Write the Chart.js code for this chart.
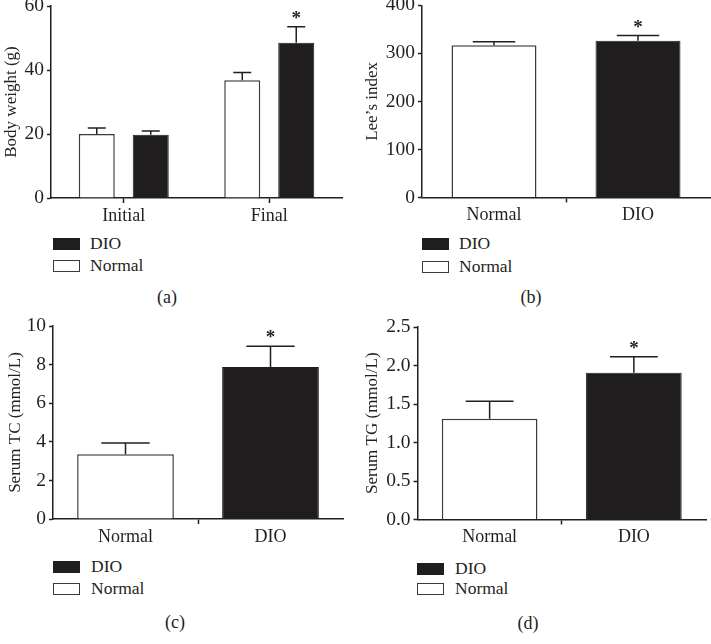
<!DOCTYPE html>
<html><head><meta charset="utf-8">
<script src="https://cdn.jsdelivr.net/npm/chart.js@4/dist/chart.umd.min.js"></script>
<style>
html,body{margin:0;padding:0;background:#fff}
body{width:711px;height:644px;position:relative;overflow:hidden;font-family:"Liberation Serif","Times New Roman",serif;color:#231f20}
.panel{position:absolute}
.lbox{position:absolute;width:27px;height:12px;box-sizing:border-box}
.ltxt{position:absolute;font-size:17.5px;line-height:17.5px;white-space:nowrap}
.cap{position:absolute;font-size:18px;line-height:20px;transform:translate(-50%,-50%)}
</style></head><body>
<script>
// ---------- data ----------
const bwCategories = ['Initial', 'Final'];
const bwNormal = [20.0, 36.8];
const bwNormalSem = [1.9, 2.4];
const bwDio = [19.8, 48.5];
const bwDioSem = [1.1, 5.0];
const bwDioStar = [false, true];
const bwTicks = [0, 20, 40, 60];

const groupCategories = ['Normal', 'DIO'];

const leeNormal = 317;
const leeNormalSem = 7;
const leeDio = 326;
const leeDioSem = 11;
const leeTicks = [0, 100, 200, 300, 400];

const tcNormal = 3.36;
const tcNormalSem = 0.58;
const tcDio = 7.87;
const tcDioSem = 1.08;
const tcTicks = [0, 2, 4, 6, 8, 10];

const tgNormal = 1.31;
const tgNormalSem = 0.225;
const tgDio = 1.907;
const tgDioSem = 0.208;
const tgTicks = [0, 0.5, 1.0, 1.5, 2.0, 2.5];

// ---------- styles ----------
const INK = '#231f20';
const FONT = '"Liberation Serif", "Times New Roman", serif';
const normalStyle = {backgroundColor: '#ffffff', borderColor: '#3b3b3b', borderWidth: 1.5};
const dioStyle = {backgroundColor: '#1f1d1e', borderColor: '#1f1d1e', borderWidth: 1};

const errPlugin = {
  id: 'errbars',
  afterDatasetsDraw(chart) {
    const ctx = chart.ctx, ys = chart.scales.y;
    chart.data.datasets.forEach((ds, i) => {
      const meta = chart.getDatasetMeta(i);
      if (!ds.sem) return;
      meta.data.forEach((bar, j) => {
        const v = ds.data[j];
        if (v == null) return;
        const top = ys.getPixelForValue(v + ds.sem[j]);
        const cap = bar.width * 0.5;
        ctx.save();
        ctx.strokeStyle = INK;
        ctx.lineWidth = 1.5;
        ctx.beginPath();
        ctx.moveTo(bar.x, bar.y);
        ctx.lineTo(bar.x, top);
        ctx.moveTo(bar.x - cap / 2, top);
        ctx.lineTo(bar.x + cap / 2, top);
        ctx.stroke();
        if (ds.star && ds.star[j]) {
          ctx.fillStyle = INK;
          ctx.font = 'bold 19px ' + FONT;
          ctx.textAlign = 'center';
          ctx.textBaseline = 'alphabetic';
          ctx.fillText('*', bar.x, top - 3);
        }
        ctx.restore();
      });
    });
  }
};

function panel(o) {
  const wrap = document.createElement('div');
  wrap.className = 'panel';
  wrap.style.left = o.left + 'px';
  wrap.style.top = o.top + 'px';
  const cv = document.createElement('canvas');
  cv.width = o.width; cv.height = o.height;
  cv.style.width = o.width + 'px'; cv.style.height = o.height + 'px';
  wrap.appendChild(cv);
  document.body.appendChild(wrap);
  const chart = new Chart(cv, {
    type: 'bar',
    data: {labels: o.labels, datasets: o.datasets},
    options: {
      responsive: false, animation: false, events: [],
      layout: {padding: o.pad},
      plugins: {legend: {display: false}, tooltip: {enabled: false}},
      datasets: {bar: {categoryPercentage: o.catPct, barPercentage: o.barPct, skipNull: true}},
      scales: {
        x: {
          grid: {
            offset: o.gridOffset, drawOnChartArea: false, tickLength: 5, tickWidth: 1.5,
            color: INK,
            tickColor: o.gridOffset ? (c => c.index === 1 ? INK : 'rgba(0,0,0,0)') : INK
          },
          border: {display: true, color: INK, width: 1.5},
          ticks: {color: INK, font: {family: FONT, size: 18}, padding: 2, maxRotation: 0, autoSkip: false},
          afterFit: s => { s.height = o.xHeight; s.paddingLeft = 0; s.paddingRight = 0; }
        },
        y: {
          min: 0, max: o.yMax,
          afterBuildTicks: s => { s.ticks = o.yTicks.map(v => ({value: v})); },
          grid: {drawOnChartArea: false, tickLength: 4, tickWidth: 1.5, color: INK, tickColor: INK},
          border: {display: true, color: INK, width: 1.5},
          ticks: {color: INK, font: {family: FONT, size: 19.5}, padding: 3, callback: v => Number(v).toFixed(o.dec)},
          title: {display: true, text: o.yTitle, color: INK, font: {family: FONT, size: 17}, padding: {top: o.titlePad, bottom: 0}},
          afterFit: s => { s.width = o.yWidth; s.paddingTop = 0; s.paddingBottom = 0; }
        }
      }
    },
    plugins: [errPlugin]
  });
  // legend (DIO first, then Normal) built from the chart datasets
  const legendSets = chart.data.datasets.slice().reverse();
  legendSets.forEach((ds, k) => {
    const bt = o.legTops[k];
    const b = document.createElement('div');
    b.className = 'lbox';
    b.style.left = o.legLeft + 'px';
    b.style.top = bt + 'px';
    b.style.background = ds.backgroundColor;
    b.style.border = ds.label === 'Normal' ? '1px solid #3b3b3b' : 'none';
    document.body.appendChild(b);
    const t = document.createElement('div');
    t.className = 'ltxt';
    t.textContent = ds.label;
    t.style.left = o.legText + 'px';
    t.style.top = (bt + 12 - 14.6) + 'px';
    document.body.appendChild(t);
  });
  const c = document.createElement('div');
  c.className = 'cap';
  c.textContent = o.caption;
  c.style.left = o.capX + 'px';
  c.style.top = o.capY + 'px';
  document.body.appendChild(c);
  return chart;
}

// (a) body weight
panel({
  left: 0, top: 0, width: 355, height: 230,
  labels: bwCategories,
  datasets: [
    Object.assign({label: 'Normal', data: bwNormal, sem: bwNormalSem}, normalStyle),
    Object.assign({label: 'DIO', data: bwDio, sem: bwDioSem, star: bwDioStar}, dioStyle)
  ],
  yMax: 60, yTicks: bwTicks, dec: 0, yTitle: 'Body weight (g)',
  yWidth: 51, xHeight: 32, pad: {top: 6, right: 13, left: 0, bottom: 0},
  gridOffset: false, catPct: 0.742, barPct: 0.667, titlePad: 1,
  legLeft: 53, legText: 90, legTops: [238, 260], caption: '(a)', capX: 167, capY: 297
});

// (b) Lee's index
panel({
  left: 355, top: 0, width: 356, height: 230,
  labels: groupCategories,
  datasets: [
    Object.assign({label: 'Normal', data: [leeNormal, null], sem: [leeNormalSem, 0]}, normalStyle),
    Object.assign({label: 'DIO', data: [null, leeDio], sem: [0, leeDioSem], star: [false, true]}, dioStyle)
  ],
  yMax: 400, yTicks: leeTicks, dec: 0, yTitle: 'Lee\u2019s index',
  yWidth: 67, xHeight: 32.5, pad: {top: 5.3, right: 1, left: 0, bottom: 0},
  gridOffset: true, catPct: 0.59, barPct: 1, titlePad: 7,
  legLeft: 422, legText: 459, legTops: [238, 261], caption: '(b)', capX: 531, capY: 297
});

// (c) Serum TC
panel({
  left: 0, top: 305, width: 355, height: 245,
  labels: groupCategories,
  datasets: [
    Object.assign({label: 'Normal', data: [tcNormal, null], sem: [tcNormalSem, 0]}, normalStyle),
    Object.assign({label: 'DIO', data: [null, tcDio], sem: [0, tcDioSem], star: [false, true]}, dioStyle)
  ],
  yMax: 10, yTicks: tcTicks, dec: 0, yTitle: 'Serum TC (mmol/L)',
  yWidth: 53, xHeight: 31, pad: {top: 21, right: 12, left: 0, bottom: 0},
  gridOffset: true, catPct: 0.667, barPct: 1, titlePad: 5,
  legLeft: 53, legText: 91, legTops: [561, 583], caption: '(c)', capX: 175, capY: 622
});

// (d) Serum TG
panel({
  left: 355, top: 305, width: 356, height: 245,
  labels: groupCategories,
  datasets: [
    Object.assign({label: 'Normal', data: [tgNormal, null], sem: [tgNormalSem, 0]}, normalStyle),
    Object.assign({label: 'DIO', data: [null, tgDio], sem: [0, tgDioSem], star: [false, true]}, dioStyle)
  ],
  yMax: 2.5, yTicks: tgTicks, dec: 1, yTitle: 'Serum TG (mmol/L)',
  yWidth: 62.5, xHeight: 30.5, pad: {top: 22, right: 5, left: 0, bottom: 0},
  gridOffset: true, catPct: 0.663, barPct: 1, titlePad: 7,
  legLeft: 417, legText: 455, legTops: [563, 583], caption: '(d)', capX: 528, capY: 623
});
</script>
</body></html>
